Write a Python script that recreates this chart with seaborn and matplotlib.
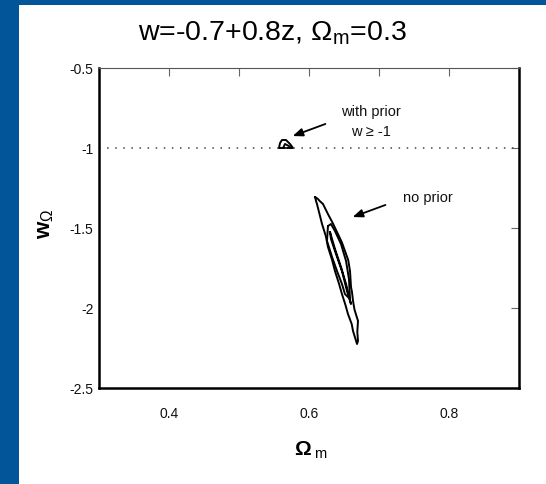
import numpy as np
import pandas as pd
import matplotlib
matplotlib.use("Agg")
import matplotlib.pyplot as plt
import matplotlib.patches as mpatches
import seaborn as sns

# ---- data ----
title_text = "w=-0.7+0.8z, $\\Omega_{\\mathrm{m}}$=0.3"
x_ticks = [0.4, 0.5, 0.6, 0.7, 0.8]
x_tick_labels = ["0.4", "", "0.6", "", "0.8"]
y_ticks = [-0.5, -1.0, -1.5, -2.0, -2.5]
y_tick_labels = ["-0.5", "-1", "-1.5", "-2", "-2.5"]
prior_w = -1.0

# outer 'no prior' contour (x = Omega_m, y = w)
outer_x = [0.6086, 0.6100, 0.6114, 0.6186, 0.6240, 0.6271, 0.6330, 0.6371, 0.6430, 0.6471,
           0.6520, 0.6557, 0.6610, 0.6629, 0.6686,
           0.6700, 0.6690, 0.6700, 0.6650, 0.6629, 0.6614, 0.6600, 0.6586, 0.6560, 0.6514,
           0.6470, 0.6414, 0.6340, 0.6271, 0.6200, 0.6150, 0.6129]
outer_y = [-1.306, -1.330, -1.350, -1.475, -1.550, -1.619, -1.700, -1.769, -1.850, -1.913,
           -1.980, -2.038, -2.100, -2.144, -2.225,
           -2.206, -2.150, -2.081, -2.010, -1.956, -1.900, -1.869, -1.769, -1.700, -1.644,
           -1.590, -1.538, -1.470, -1.413, -1.350, -1.330, -1.319]
# inner contours
innerA_x = [0.6271, 0.6257, 0.6329, 0.6400, 0.6471, 0.6514, 0.6586, 0.6571, 0.6529, 0.6457, 0.6371, 0.6314]
innerA_y = [-1.488, -1.581, -1.681, -1.769, -1.850, -1.913, -1.944, -1.819, -1.706, -1.600, -1.519, -1.475]
innerB_x = [0.6300, 0.6371, 0.6457, 0.6529, 0.6600, 0.6543, 0.6471, 0.6386, 0.6314]
innerB_y = [-1.525, -1.631, -1.744, -1.850, -1.975, -1.894, -1.769, -1.663, -1.569]
# small 'with prior' contour
prior_x = [0.5571, 0.5586, 0.5614, 0.5671, 0.5729, 0.5771]
prior_y = [-1.000, -0.969, -0.950, -0.950, -0.975, -1.000]
prior_in_x = [0.5629, 0.5657, 0.5714, 0.5743]
prior_in_y = [-1.000, -0.975, -0.988, -1.000]

def closed(xs, ys, name, close=True):
    xs = list(xs); ys = list(ys)
    if close:
        xs = xs + [xs[0]]; ys = ys + [ys[0]]
    return pd.DataFrame({"x": xs, "y": ys, "contour": name, "order": range(len(xs))})

df = pd.concat([
    closed(outer_x, outer_y, "outer"),
    closed(innerA_x, innerA_y, "innerA"),
    closed(innerB_x, innerB_y, "innerB"),
    closed(prior_x, prior_y, "prior"),
    closed(prior_in_x, prior_in_y, "prior_in", close=False),
], ignore_index=True)

sns.set_theme(style="white")
plt.rcParams["font.family"] = ["Liberation Sans", "DejaVu Sans"]
plt.rcParams["mathtext.fontset"] = "custom"
plt.rcParams["mathtext.rm"] = "Liberation Sans"
plt.rcParams["mathtext.it"] = "Liberation Sans:italic"
plt.rcParams["mathtext.bf"] = "Liberation Sans:bold"
plt.rcParams["text.color"] = "black"

W, H = 546, 485
fig = plt.figure(figsize=(W / 100, H / 100), dpi=100)
fig.patch.set_facecolor("#03559A")
fig.add_artist(mpatches.Rectangle((19 / W, 0), 1 - 19 / W, 1 - 6 / H,
                                  transform=fig.transFigure, facecolor="white",
                                  edgecolor="none", zorder=0))

ax = fig.add_axes([99 / W, 1 - 389 / H, 420 / W, 320 / H])
ax.set_facecolor("white")

for name, sub in df.groupby("contour", sort=False):
    sns.lineplot(data=sub, x="x", y="y", sort=False, estimator=None,
                 color="black", linewidth=1.4, ax=ax, legend=False)

ax.plot([0.3, 0.9], [prior_w, prior_w], color="#444444", linewidth=1.1,
        linestyle=(0, (1, 4.3)))

ax.set_xlim(0.3, 0.9)
ax.set_ylim(-2.5, -0.5)
ax.set_xticks(x_ticks)
ax.set_xticklabels(x_tick_labels)
ax.set_yticks(y_ticks)
ax.set_yticklabels(y_tick_labels)
ax.tick_params(direction="in", length=6, width=0.8, color="#666666",
               labelsize=10, top=True, right=True, labelcolor="#111111")
ax.tick_params(axis="x", pad=13)
ax.tick_params(axis="y", pad=4)
for s in ["left", "bottom", "right"]:
    ax.spines[s].set_linewidth(1.8)
    ax.spines[s].set_color("black")
ax.spines["top"].set_linewidth(0.8)
ax.spines["top"].set_color("#555555")

ax.set_xlabel("")
ax.set_ylabel("")
fig.text(311 / W, 1 - 450 / H, "$\\mathbf{\\Omega}_{\\ \\mathrm{m}}$", fontsize=15,
         ha="center", va="center")
fig.text(46 / W, 1 - 224 / H, "$\\mathbf{w}_{\\Omega}$", fontsize=16,
         ha="center", va="center", rotation=90)

fig.text(272 / W, 1 - 33 / H, title_text, fontsize=20.5, ha="center", va="center")

# annotations
ax.annotate("", xy=(0.5729, -0.9313), xytext=(0.6271, -0.8438),
            arrowprops=dict(arrowstyle="-|>,head_length=0.5,head_width=0.2",
                            color="black", lw=1.3))
ax.text(0.6886, -0.769, "with prior", fontsize=10.5, ha="center", va="center", color="#111111")
ax.text(0.6886, -0.894, "w \u2265 -1", fontsize=10.5, ha="center", va="center", color="#111111")
ax.annotate("", xy=(0.6586, -1.4375), xytext=(0.7129, -1.35),
            arrowprops=dict(arrowstyle="-|>,head_length=0.5,head_width=0.2",
                            color="black", lw=1.3))
ax.text(0.77, -1.306, "no prior", fontsize=10.5, ha="center", va="center", color="#111111")

fig.savefig("out.png", dpi=100, facecolor=fig.get_facecolor())
